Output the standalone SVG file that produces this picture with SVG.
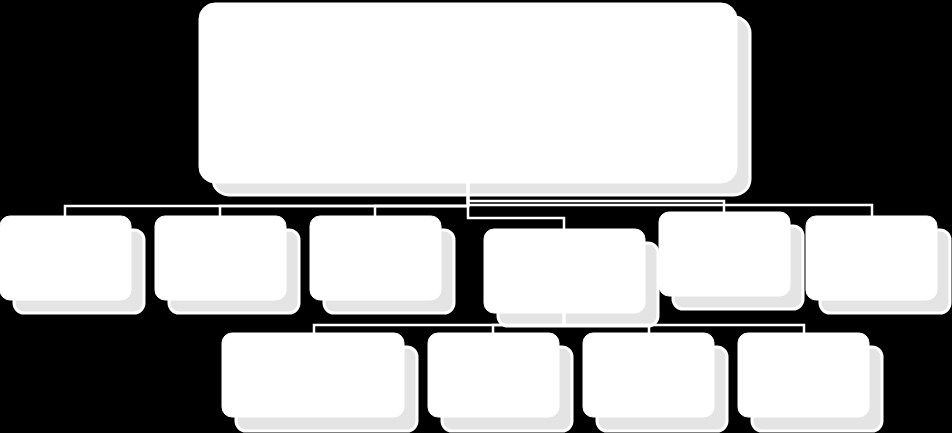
<svg xmlns="http://www.w3.org/2000/svg" width="952" height="433" viewBox="0 0 952 433">
<style>
.sh{fill:#e4e4e4;stroke:#ffffff;stroke-width:3}
.fr{fill:#ffffff;stroke:#ffffff;stroke-width:1}
.cn{fill:none;stroke:#ffffff;stroke-width:2.5}
</style>
<rect width="952" height="433" fill="#000000"/>
<g id="node-top">
<rect class="sh" x="213" y="17" width="537" height="178" rx="16"/>
<rect class="fr" x="199" y="3" width="538" height="180" rx="16"/>
</g>
<g id="node-1">
<rect class="sh" x="14" y="230" width="130" height="83" rx="10"/>
<rect class="fr" x="0" y="216" width="131" height="84" rx="10"/>
</g>
<g id="node-2">
<rect class="sh" x="169" y="230" width="130" height="83" rx="10"/>
<rect class="fr" x="155" y="216" width="131" height="84" rx="10"/>
</g>
<g id="node-3">
<rect class="sh" x="324" y="230" width="130" height="83" rx="10"/>
<rect class="fr" x="310" y="216" width="131" height="84" rx="10"/>
</g>
<g id="node-4">
<rect class="sh" x="498" y="243" width="160" height="83" rx="10"/>
<rect class="fr" x="484" y="229" width="161" height="84" rx="10"/>
</g>
<g id="node-5">
<rect class="sh" x="673" y="226" width="130" height="83" rx="10"/>
<rect class="fr" x="659" y="212" width="131" height="84" rx="10"/>
</g>
<g id="node-6">
<rect class="sh" x="820" y="230" width="130" height="83" rx="10"/>
<rect class="fr" x="806" y="216" width="131" height="84" rx="10"/>
</g>
<g id="node-7">
<rect class="sh" x="236" y="347" width="181" height="84" rx="10"/>
<rect class="fr" x="222" y="333" width="182" height="84" rx="10"/>
</g>
<g id="node-8">
<rect class="sh" x="442" y="347" width="130" height="84" rx="10"/>
<rect class="fr" x="428" y="333" width="131" height="84" rx="10"/>
</g>
<g id="node-9">
<rect class="sh" x="597" y="347" width="130" height="84" rx="10"/>
<rect class="fr" x="583" y="333" width="131" height="84" rx="10"/>
</g>
<g id="node-10">
<rect class="sh" x="752" y="347" width="130" height="84" rx="10"/>
<rect class="fr" x="738" y="333" width="131" height="84" rx="10"/>
</g>
<g id="connectors">
<path class="cn" d="M468,183 V206 H65 V216"/>
<path class="cn" d="M468,183 V206 H220 V216"/>
<path class="cn" d="M468,183 V206 H375 V216"/>
<path class="cn" d="M468,183 V218 H564 V229"/>
<path class="cn" d="M468,183 V201 H724 V212"/>
<path class="cn" d="M468,183 V205 H872 V216"/>
<path class="cn" d="M564,313 V325 H314 V333"/>
<path class="cn" d="M564,313 V325 H493 V333"/>
<path class="cn" d="M564,313 V325 H649 V333"/>
<path class="cn" d="M564,313 V325 H804 V333"/>
</g>
</svg>
